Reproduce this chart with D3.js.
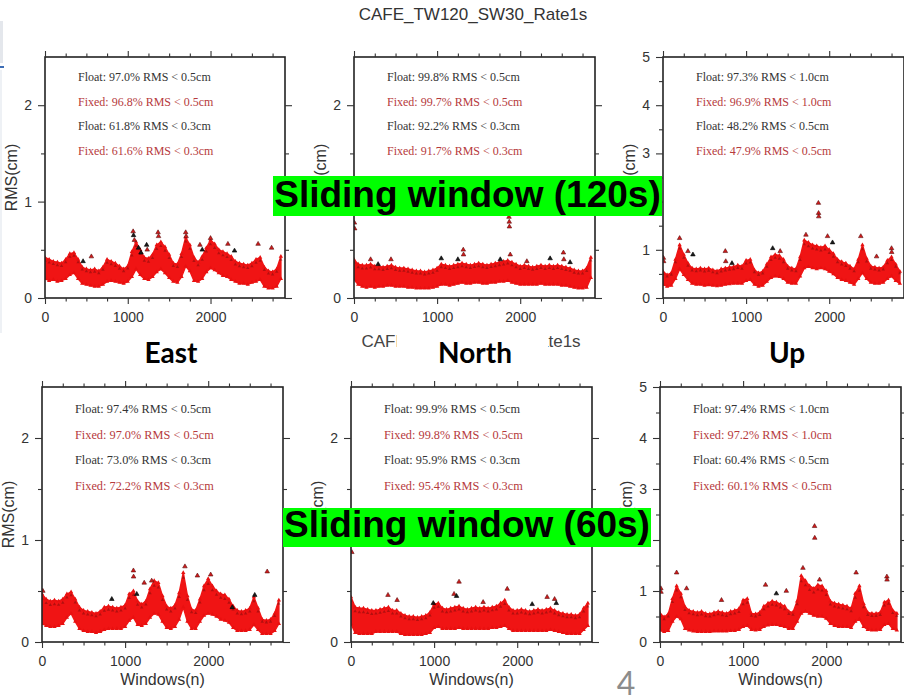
<!DOCTYPE html>
<html>
<head>
<meta charset="utf-8">
<script src="https://cdn.jsdelivr.net/npm/d3@7"></script>
<style>
body{margin:0;background:#fff}
svg{display:block}
</style>
</head>
<body>
<svg id="chart" width="904" height="696"></svg>
<script>
// window index of every sample (one value every 50 windows)
var windows = [0,50,100,150,200,250,300,350,400,450,500,550,600,650,700,750,800,850,900,950,
	1000,1050,1100,1150,1200,1250,1300,1350,1400,1450,1500,1550,1600,1650,1700,1750,1800,1850,1900,1950,
	2000,2050,2100,2150,2200,2250,2300,2350,2400,2450,2500,2550,2600,2650,2700,2750,2800,2850];

// upper / lower edge of the RMS cloud, cm
var eastHi120 = [.42,.40,.38,.37,.36,.40,.46,.47,.40,.32,.30,.29,.30,.28,.32,.40,.38,.36,.33,.30,
	.33,.48,.58,.50,.42,.41,.45,.55,.58,.53,.45,.36,.35,.46,.63,.55,.42,.37,.43,.52,
	.60,.56,.50,.48,.46,.43,.38,.36,.35,.34,.36,.40,.42,.32,.28,.27,.30,.43];
var eastLo120 = [.20,.18,.19,.17,.18,.20,.24,.26,.20,.15,.14,.13,.12,.12,.14,.17,.18,.17,.16,.15,
	.17,.22,.30,.24,.20,.19,.22,.27,.30,.26,.21,.17,.16,.22,.33,.28,.18,.17,.20,.27,
	.31,.29,.26,.23,.22,.19,.17,.15,.15,.14,.16,.17,.19,.12,.10,.10,.12,.20];
var northHi120 = [.40,.35,.34,.34,.35,.33,.33,.32,.33,.34,.32,.31,.31,.30,.29,.28,.28,.27,.28,.29,
	.31,.35,.34,.33,.34,.35,.36,.35,.34,.35,.36,.35,.34,.35,.36,.37,.38,.39,.37,.35,
	.33,.34,.33,.32,.33,.34,.33,.34,.33,.34,.33,.32,.31,.29,.28,.28,.31,.42];
var northLo120 = [.19,.14,.12,.11,.12,.11,.12,.12,.13,.13,.12,.12,.12,.11,.11,.10,.10,.10,.10,.11,
	.12,.14,.14,.13,.14,.15,.16,.15,.15,.16,.16,.15,.15,.16,.16,.17,.17,.18,.16,.15,
	.14,.14,.14,.14,.14,.15,.14,.14,.14,.14,.13,.13,.12,.11,.10,.10,.11,.21];
var upHi120 = [.55,.48,.52,.80,1.10,.90,.72,.62,.60,.62,.60,.62,.58,.56,.60,.62,.64,.65,.68,.66,
	.78,.80,.58,.52,.55,.70,.85,.90,.88,.80,.66,.62,.60,.85,1.20,1.15,1.10,1.08,1.05,1.08,
	1.00,.92,.80,.75,.72,.66,.60,.80,1.10,.82,.66,.64,.62,.64,.78,.85,.70,.55];
var upLo120 = [.28,.24,.26,.40,.60,.48,.38,.30,.28,.28,.26,.27,.26,.25,.26,.28,.29,.30,.30,.30,
	.36,.38,.28,.24,.26,.34,.42,.45,.44,.40,.32,.30,.30,.45,.62,.65,.62,.60,.62,.60,
	.55,.50,.42,.38,.36,.32,.28,.40,.52,.40,.32,.30,.30,.32,.40,.45,.36,.30];
var eastHi60 = [.47,.42,.40,.41,.40,.42,.47,.49,.42,.34,.31,.30,.29,.28,.30,.34,.35,.34,.33,.34,
	.36,.47,.50,.40,.37,.40,.52,.60,.58,.45,.35,.33,.36,.48,.68,.45,.32,.31,.42,.55,
	.62,.55,.50,.47,.46,.42,.35,.31,.30,.31,.33,.44,.33,.22,.21,.22,.28,.41];
var eastLo60 = [.18,.16,.15,.15,.16,.18,.24,.28,.20,.13,.11,.10,.10,.09,.10,.12,.13,.13,.13,.13,
	.15,.21,.24,.17,.16,.18,.24,.28,.27,.20,.14,.13,.15,.22,.34,.20,.13,.13,.20,.26,
	.28,.27,.25,.22,.21,.19,.14,.11,.11,.11,.12,.17,.12,.08,.08,.08,.11,.18];
var northHi60 = [.44,.34,.33,.33,.32,.31,.31,.32,.33,.34,.31,.31,.28,.26,.25,.25,.24,.25,.26,.29,
	.37,.38,.33,.32,.33,.34,.35,.33,.32,.33,.34,.33,.34,.33,.34,.35,.38,.41,.34,.31,
	.31,.32,.31,.30,.31,.32,.31,.32,.33,.31,.29,.28,.27,.27,.26,.27,.33,.38];
var northLo60 = [.18,.09,.08,.08,.08,.08,.10,.10,.10,.10,.10,.10,.08,.07,.07,.07,.07,.07,.08,.09,
	.14,.15,.13,.13,.13,.13,.14,.13,.13,.13,.13,.13,.13,.13,.14,.14,.15,.16,.13,.11,
	.11,.11,.11,.11,.11,.11,.11,.11,.12,.11,.10,.09,.08,.08,.08,.08,.12,.16];
var upHi60 = [.56,.49,.55,.85,1.10,.95,.69,.62,.60,.58,.60,.56,.55,.58,.60,.58,.56,.60,.62,.65,
	.82,.85,.56,.55,.58,.70,.76,.80,.78,.74,.70,.60,.58,.80,1.30,1.20,1.10,1.05,1.12,1.10,
	1.00,.80,.76,.74,.72,.70,.66,.95,1.10,.75,.58,.56,.56,.58,.78,.82,.62,.56];
var upLo60 = [.23,.20,.22,.40,.50,.45,.26,.23,.21,.20,.20,.20,.20,.21,.21,.21,.21,.22,.22,.24,
	.30,.32,.24,.23,.24,.30,.33,.34,.34,.32,.30,.26,.26,.40,.56,.60,.56,.52,.50,.50,
	.46,.36,.32,.30,.30,.30,.28,.40,.45,.30,.24,.23,.23,.24,.34,.36,.26,.23];

// isolated points: [window, RMS cm, 1 = fixed / 0 = float]
var eastOut120 = [[460,.38,0],[560,.43,1],[1065,.69,1],[1070,.65,0],[1080,.60,1],[1130,.52,0],[1160,.47,0],
	[1228,.55,0],[1235,.50,1],[1366,.68,1],[1372,.64,1],[1700,.68,1],[1705,.64,1],[1872,.55,1],
	[1900,.50,0],[2000,.62,1],[2210,.56,1],[2290,.49,0],[2575,.56,1],[2738,.52,1]];
var northOut120 = [[5,.78,1],[8,.72,1],[200,.40,1],[290,.35,0],[445,.40,1],[1050,.41,0],[1250,.40,0],
	[1315,.50,1],[1318,.45,1],[1760,.40,0],[1865,.84,1],[1868,.79,1],[1870,.74,1],[1880,.45,1],
	[2080,.38,1],[2360,.41,0],[2520,.47,1],[2525,.40,1],[2600,.37,0]];
var upOut120 = [[5,.83,1],[8,.76,1],[200,1.24,1],[300,.97,1],[360,.90,0],[750,.97,1],[755,.76,1],
	[830,.72,0],[1320,1.03,0],[1410,.97,1],[1720,1.31,1],[1870,1.97,1],[1872,1.76,1],[1874,1.69,1],
	[1980,1.28,1],[2040,1.15,0],[2380,1.28,1],[2570,.86,1],[2750,1.03,1],[2752,.95,1]];
var eastOut60 = [[10,.50,1],[840,.42,0],[1100,.70,1],[1102,.64,1],[1140,.47,0],[1230,.58,1],[1320,.60,1],
	[1720,.74,1],[1870,.65,1],[2030,.66,1],[2290,.34,0],[2560,.46,0],[2710,.69,1]];
var northOut60 = [[10,.88,1],[445,.46,1],[555,.41,1],[990,.38,0],[1240,.47,1],[1270,.45,0],[1300,.59,1],
	[1590,.39,1],[1880,.52,1],[2180,.37,0],[2360,.44,1],[2450,.42,1],[2470,.38,0]];
var upOut60 = [[10,1.05,1],[12,.98,1],[200,1.36,1],[320,1.05,1],[740,.82,1],[1270,1.12,1],[1400,.95,0],
	[1520,1.00,1],[1720,1.45,1],[1860,2.27,1],[1862,2.04,1],[1920,1.22,1],[2360,1.36,1],[2730,1.28,1],[2732,1.22,1]];

var statsEast120 = ["Float: 97.0% RMS < 0.5cm","Fixed: 96.8% RMS < 0.5cm","Float: 61.8% RMS < 0.3cm","Fixed: 61.6% RMS < 0.3cm"];
var statsNorth120 = ["Float: 99.8% RMS < 0.5cm","Fixed: 99.7% RMS < 0.5cm","Float: 92.2% RMS < 0.3cm","Fixed: 91.7% RMS < 0.3cm"];
var statsUp120 = ["Float: 97.3% RMS < 1.0cm","Fixed: 96.9% RMS < 1.0cm","Float: 48.2% RMS < 0.5cm","Fixed: 47.9% RMS < 0.5cm"];
var statsEast60 = ["Float: 97.4% RMS < 0.5cm","Fixed: 97.0% RMS < 0.5cm","Float: 73.0% RMS < 0.3cm","Fixed: 72.2% RMS < 0.3cm"];
var statsNorth60 = ["Float: 99.9% RMS < 0.5cm","Fixed: 99.8% RMS < 0.5cm","Float: 95.9% RMS < 0.3cm","Fixed: 95.4% RMS < 0.3cm"];
var statsUp60 = ["Float: 97.4% RMS < 1.0cm","Fixed: 97.2% RMS < 1.0cm","Float: 60.4% RMS < 0.5cm","Fixed: 60.1% RMS < 0.5cm"];

var xMajor = [0,1000,2000];
var xMinor = [250,500,750,1250,1500,1750,2250,2500,2750];
var yMajorSmall = [0,1,2];
var yMinorSmall = [0.5,1.5];
var yMajorBig = [0,1,2,3,4,5];
var yMinorBig = [0.5,1.5,2.5,3.5,4.5];

var titles = ["CAFE_TW120_SW30_Rate1s","CAFE_TW60_SW30_Rate1s"];
var components = ["East","North","Up"];
var windowLabels = ["Sliding window (120s)","Sliding window (60s)"];

var svg = d3.select("#chart");
var tickFont = "'Liberation Sans', Arial, sans-serif";

// small page artefacts at the left edge
svg.append("rect").attr("x",0).attr("y",21).attr("width",3).attr("height",42).attr("fill","#e4e7ec");
svg.append("rect").attr("x",0).attr("y",66).attr("width",4).attr("height",2).attr("fill","#3d6db5");
svg.append("rect").attr("x",0).attr("y",70).attr("width",2).attr("height",263).attr("fill","#eef1f5");

var panels = [
	{x0:45, y0:57, w:240, h:241, ymax:2.5, hi:eastHi120, lo:eastLo120, out:eastOut120, stats:statsEast120, fs:12, xTitle:false},
	{x0:354, y0:57, w:241, h:241, ymax:2.5, hi:northHi120, lo:northLo120, out:northOut120, stats:statsNorth120, fs:12, xTitle:false},
	{x0:663, y0:57, w:241, h:241, ymax:5, hi:upHi120, lo:upLo120, out:upOut120, stats:statsUp120, fs:12, xTitle:false},
	{x0:42, y0:387, w:241, h:255, ymax:2.5, hi:eastHi60, lo:eastLo60, out:eastOut60, stats:statsEast60, fs:12.3, xTitle:true},
	{x0:351, y0:387, w:241, h:255, ymax:2.5, hi:northHi60, lo:northLo60, out:northOut60, stats:statsNorth60, fs:12.3, xTitle:true},
	{x0:660, y0:387, w:241, h:255, ymax:5, hi:upHi60, lo:upLo60, out:upOut60, stats:statsUp60, fs:12.3, xTitle:true}
];

var tri = d3.symbol().type(d3.symbolTriangle);

var drawPanel = function(p, n){
	var x = d3.scaleLinear().domain([0,2900]).range([p.x0, p.x0 + p.w]);
	var y = d3.scaleLinear().domain([0,p.ymax]).range([p.y0 + p.h, p.y0]);
	var rows = windows.map(function(d, i){ return {w:d, hi:p.hi[i], lo:p.lo[i]}; });
	var g = svg.append("g");

	g.append("clipPath").attr("id","clip" + n)
		.append("rect").attr("x",p.x0).attr("y",p.y0).attr("width",p.w).attr("height",p.h);
	var plot = g.append("g").attr("clip-path","url(#clip" + n + ")");

	//the dense cloud of fixed solutions
	var area = d3.area()
		.x(function(d){ return x(d.w); })
		.y0(function(d){ return y(d.lo); })
		.y1(function(d){ return y(d.hi); });
	plot.append("path").datum(rows)
		.attr("d", area)
		.attr("fill","#f01414")
		.attr("stroke","#f01414")
		.attr("stroke-width",1.5)
		.attr("stroke-linejoin","round");

	plot.selectAll(".edgeHi").data(rows).enter().append("path")
		.attr("transform", function(d){ return "translate(" + x(d.w) + "," + y(d.hi) + ")"; })
		.attr("d", tri.size(8))
		.attr("fill","#e81010");
	plot.selectAll(".edgeLo").data(rows).enter().append("path")
		.attr("transform", function(d){ return "translate(" + x(d.w) + "," + y(d.lo) + ")"; })
		.attr("d", tri.size(8))
		.attr("fill","#e81010");
	plot.selectAll(".speck").data(rows).enter().append("path")
		.attr("transform", function(d){ return "translate(" + x(d.w) + "," + y(d.hi - (d.hi - d.lo) * 0.15) + ")"; })
		.attr("d", tri.size(5))
		.attr("fill","#5a0808")
		.attr("opacity",0.4);

	plot.selectAll(".out").data(p.out).enter().append("path")
		.attr("transform", function(d){ return "translate(" + x(d[0]) + "," + y(d[1]) + ")"; })
		.attr("d", tri.size(9))
		.attr("fill", function(d){ return d[2] ? "#d01a1a" : "#1a1a1a"; })
		.attr("stroke", function(d){ return d[2] ? "#5a1010" : "#000"; })
		.attr("stroke-width",0.6);

	//frame
	g.append("rect")
		.attr("x",p.x0).attr("y",p.y0).attr("width",p.w).attr("height",p.h)
		.attr("fill","none").attr("stroke","#222").attr("stroke-width",1.6);

	var yMajor = p.ymax > 3 ? yMajorBig : yMajorSmall;
	var yMinor = p.ymax > 3 ? yMinorBig : yMinorSmall;

	var addAxis = function(axis, tx, ty, labels){
		var a = g.append("g").attr("transform","translate(" + tx + "," + ty + ")").call(axis);
		a.select(".domain").remove();
		a.selectAll("line").attr("stroke","#333").attr("stroke-width",1.1);
		a.selectAll("text").attr("font-family",tickFont).attr("font-size",14).attr("fill","#333");
		if (!labels) a.selectAll("text").remove();
	};
	addAxis(d3.axisLeft(y).tickValues(yMajor).tickSize(7).tickPadding(6).tickFormat(d3.format("d")), p.x0, 0, true);
	addAxis(d3.axisLeft(y).tickValues(yMinor).tickSize(4), p.x0, 0, false);
	addAxis(d3.axisRight(y).tickValues(yMajor.filter(function(d){ return d < p.ymax; })).tickSize(7), p.x0 + p.w, 0, false);
	addAxis(d3.axisRight(y).tickValues(yMinor).tickSize(4), p.x0 + p.w, 0, false);
	addAxis(d3.axisBottom(x).tickValues(xMajor).tickSize(6).tickPadding(8).tickFormat(d3.format("d")), 0, p.y0 + p.h, true);
	addAxis(d3.axisBottom(x).tickValues(xMinor).tickSize(3.5), 0, p.y0 + p.h, false);
	addAxis(d3.axisTop(x).tickValues(xMajor).tickSize(6), 0, p.y0, false);
	addAxis(d3.axisTop(x).tickValues(xMinor).tickSize(3.5), 0, p.y0, false);

	g.append("text")
		.attr("transform","translate(" + (p.x0 - 28) + "," + (p.y0 + p.h / 2) + ") rotate(-90)")
		.attr("text-anchor","middle")
		.attr("font-family",tickFont).attr("font-size",16).attr("fill","#333")
		.text("RMS(cm)");
	if (p.xTitle){
		g.append("text")
			.attr("x", p.x0 + p.w / 2).attr("y", 685)
			.attr("text-anchor","middle")
			.attr("font-family",tickFont).attr("font-size",16).attr("fill","#333")
			.text("Windows(n)");
	}

	var lineGap = p.h * 0.1013;
	g.selectAll(".stat").data(p.stats).enter().append("text")
		.attr("x", p.x0 + 33)
		.attr("y", function(d, i){ return p.y0 + lineGap * (i + 1); })
		.attr("font-family","'Liberation Serif', 'Times New Roman', serif")
		.attr("font-size", p.fs)
		.attr("fill", function(d, i){ return i % 2 ? "#b63a3c" : "#333"; })
		.text(function(d){ return d; });
};

for (var i = 0; i < panels.length; i++){
	drawPanel(panels[i], i);
}

//figure titles
svg.append("text").attr("x",473).attr("y",20).attr("text-anchor","middle")
	.attr("font-family",tickFont).attr("font-size",17).attr("fill","#333").text(titles[0]);
svg.append("text").attr("x",471).attr("y",347).attr("text-anchor","middle")
	.attr("font-family",tickFont).attr("font-size",17).attr("fill","#444").text(titles[1]);

//component labels on white boxes
var compX = [171, 475, 787];
svg.append("rect").attr("x",397).attr("y",329).attr("width",151).attr("height",44).attr("fill","#fff");
svg.selectAll(".comp").data(components).enter().append("text")
	.attr("x", function(d, i){ return compX[i]; })
	.attr("y", 363)
	.attr("text-anchor","middle")
	.attr("font-family","Lato, 'Open Sans', sans-serif")
	.attr("font-weight","bold")
	.attr("font-size",28)
	.attr("fill","#000")
	.text(function(d){ return d; });

//green callouts
var boxes = [{x:273, y:176, w:389, h:40, ty:207}, {x:283, y:508, w:368, h:39, ty:537}];
boxes.forEach(function(b, i){
	svg.append("rect").attr("x",b.x).attr("y",b.y).attr("width",b.w).attr("height",b.h).attr("fill","#00ff00");
	svg.append("text").attr("x",b.x + b.w / 2).attr("y",b.ty).attr("text-anchor","middle")
		.attr("font-family",tickFont).attr("font-weight","bold").attr("font-size",37)
		.attr("fill","#000").text(windowLabels[i]);
});

//slide number
svg.append("text").attr("x",626).attr("y",695).attr("text-anchor","middle")
	.attr("font-family","Lato, 'Open Sans', sans-serif").attr("font-size",32).attr("fill","#8c8c8c").text("4");
</script>
</body>
</html>
